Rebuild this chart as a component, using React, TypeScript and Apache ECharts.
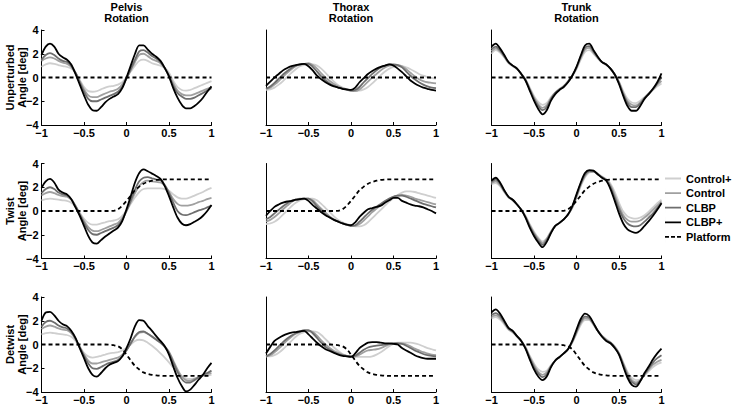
import React, { useEffect, useRef } from "react";
import * as echarts from "echarts";

const X = [-1, -0.95, -0.9, -0.85, -0.8, -0.75, -0.7, -0.65, -0.6, -0.55, -0.5, -0.45, -0.4, -0.35, -0.3, -0.25, -0.2, -0.15, -0.1, -0.05, 0, 0.05, 0.1, 0.15, 0.2, 0.25, 0.3, 0.35, 0.4, 0.45, 0.5, 0.55, 0.6, 0.65, 0.7, 0.75, 0.8, 0.85, 0.9, 0.95, 1];

const COLUMN_TITLES = ["Pelvis\nRotation", "Thorax\nRotation", "Trunk\nRotation"];
const ROW_TITLES = ["Unperturbed\nAngle [deg]", "Twist\nAngle [deg]", "Detwist\nAngle [deg]"];
const GROUPS = ["Control+", "Control", "CLBP", "CLBP+", "Platform"];
const X_TICKS = { min: -1, max: 1, interval: 0.5 };
const Y_TICKS = { min: -4, max: 4, interval: 2 };

// Pelvis, unperturbed
const PU_CP = [0.9, 1.1, 1.2, 1.15, 1.05, 0.95, 0.9, 0.75, 0.4, -0.2, -0.8, -1.15, -1.2, -1.15, -1.0, -0.85, -0.75, -0.7, -0.6, -0.4, 0.0, 0.5, 1.0, 1.4, 1.5, 1.4, 1.2, 1.1, 1.0, 0.8, 0.4, -0.3, -0.8, -1.05, -1.1, -1.05, -0.9, -0.75, -0.6, -0.45, -0.3];
const PU_C = [1.4, 1.6, 1.7, 1.6, 1.4, 1.25, 1.15, 0.9, 0.4, -0.3, -1.0, -1.5, -1.65, -1.65, -1.5, -1.35, -1.2, -1.1, -0.95, -0.6, 0.0, 0.6, 1.3, 1.9, 2.0, 1.8, 1.55, 1.4, 1.2, 0.8, 0.2, -0.5, -1.1, -1.4, -1.5, -1.5, -1.4, -1.25, -1.1, -0.95, -0.8];
const PU_L = [1.5, 1.9, 2.05, 1.9, 1.6, 1.4, 1.3, 1.0, 0.4, -0.4, -1.2, -1.8, -2.0, -2.0, -1.85, -1.7, -1.55, -1.4, -1.2, -0.8, -0.1, 0.7, 1.5, 2.2, 2.3, 2.1, 1.8, 1.6, 1.3, 0.8, 0.1, -0.7, -1.3, -1.6, -1.8, -1.8, -1.7, -1.5, -1.3, -1.1, -0.9];
const PU_LP = [1.9, 2.6, 2.85, 2.6, 2.0, 1.7, 1.5, 1.1, 0.3, -0.6, -1.5, -2.3, -2.75, -2.8, -2.5, -2.1, -1.8, -1.6, -1.4, -0.9, 0.0, 1.0, 2.0, 2.7, 2.7, 2.35, 2.0, 1.75, 1.4, 0.8, 0.1, -0.9, -1.7, -2.3, -2.6, -2.6, -2.4, -2.1, -1.7, -1.2, -0.75];

// Thorax, unperturbed
const TU_CP = [-1.05, -1.0, -0.85, -0.6, -0.3, 0.05, 0.4, 0.7, 0.95, 1.05, 1.1, 1.1, 1.0, 0.75, 0.4, 0.0, -0.35, -0.65, -0.85, -1.0, -1.05, -1.1, -1.1, -1.0, -0.8, -0.5, -0.15, 0.2, 0.5, 0.75, 0.9, 0.95, 0.95, 0.85, 0.7, 0.5, 0.3, 0.15, 0.05, -0.05, -0.1];
const TU_C = [-0.95, -0.85, -0.6, -0.3, 0.05, 0.4, 0.7, 0.95, 1.1, 1.15, 1.2, 1.05, 0.75, 0.35, 0.0, -0.3, -0.55, -0.75, -0.9, -1.0, -1.1, -1.15, -1.0, -0.7, -0.35, 0.0, 0.3, 0.6, 0.85, 1.0, 1.05, 1.05, 0.95, 0.7, 0.4, 0.1, -0.15, -0.3, -0.4, -0.45, -0.5];
const TU_L = [-0.95, -0.75, -0.45, -0.1, 0.25, 0.55, 0.8, 1.0, 1.1, 1.15, 1.15, 0.9, 0.5, 0.1, -0.25, -0.5, -0.7, -0.85, -0.95, -1.05, -1.1, -1.05, -0.8, -0.4, -0.05, 0.3, 0.6, 0.85, 1.0, 1.1, 1.1, 1.05, 0.85, 0.5, 0.15, -0.15, -0.4, -0.6, -0.75, -0.85, -0.9];
const TU_LP = [-0.7, -0.35, 0.0, 0.3, 0.6, 0.8, 0.95, 1.05, 1.1, 1.15, 0.95, 0.6, 0.15, -0.15, -0.4, -0.6, -0.75, -0.85, -0.95, -1.0, -1.05, -0.85, -0.4, -0.05, 0.3, 0.55, 0.75, 0.9, 1.0, 1.1, 1.0, 0.75, 0.45, 0.1, -0.25, -0.5, -0.7, -0.85, -0.95, -1.05, -1.1];

// Trunk, unperturbed
const RU_CP = [2.0, 2.3, 2.1, 1.7, 1.2, 0.95, 0.7, 0.3, -0.15, -0.85, -1.55, -2.05, -2.3, -2.15, -1.65, -1.25, -0.95, -0.7, -0.35, 0.1, 0.7, 1.5, 2.15, 2.3, 2.0, 1.6, 1.25, 1.05, 0.75, 0.25, -0.35, -1.15, -1.8, -2.1, -2.15, -1.95, -1.65, -1.35, -1.05, -0.75, -0.5];
const RU_C = [2.2, 2.45, 2.2, 1.75, 1.25, 1.0, 0.75, 0.3, -0.2, -0.95, -1.7, -2.25, -2.55, -2.35, -1.75, -1.3, -1.0, -0.75, -0.35, 0.15, 0.8, 1.65, 2.35, 2.5, 2.1, 1.65, 1.3, 1.1, 0.75, 0.25, -0.4, -1.3, -2.0, -2.3, -2.35, -2.1, -1.7, -1.35, -1.0, -0.6, -0.3];
const RU_L = [2.4, 2.6, 2.3, 1.8, 1.3, 1.0, 0.75, 0.3, -0.2, -1.0, -1.8, -2.4, -2.75, -2.5, -1.8, -1.3, -1.0, -0.75, -0.35, 0.15, 0.85, 1.75, 2.5, 2.65, 2.2, 1.7, 1.3, 1.1, 0.75, 0.25, -0.45, -1.4, -2.15, -2.5, -2.5, -2.2, -1.75, -1.35, -0.95, -0.5, 0.0];
const RU_LP = [2.6, 2.85, 2.45, 1.9, 1.3, 1.0, 0.75, 0.3, -0.25, -1.1, -1.95, -2.65, -3.1, -2.75, -1.95, -1.4, -1.05, -0.8, -0.4, 0.15, 0.9, 1.85, 2.7, 2.85, 2.3, 1.75, 1.3, 1.1, 0.75, 0.25, -0.55, -1.55, -2.4, -2.8, -2.8, -2.4, -1.8, -1.4, -0.95, -0.4, 0.35];

// Pelvis, twist
const PT_CP = [0.9, 1.0, 1.05, 1.0, 0.95, 0.9, 0.85, 0.7, 0.35, -0.15, -0.65, -1.0, -1.15, -1.15, -1.05, -0.95, -0.85, -0.8, -0.7, -0.4, 0.05, 0.6, 1.15, 1.6, 1.85, 1.9, 1.9, 1.9, 1.9, 1.85, 1.7, 1.4, 1.15, 1.05, 1.05, 1.15, 1.3, 1.45, 1.6, 1.8, 1.95];
const PT_C = [1.3, 1.5, 1.6, 1.5, 1.35, 1.25, 1.2, 0.95, 0.45, -0.2, -0.85, -1.35, -1.65, -1.7, -1.6, -1.45, -1.3, -1.15, -1.0, -0.6, 0.0, 0.75, 1.5, 2.1, 2.45, 2.55, 2.5, 2.45, 2.4, 2.15, 1.6, 1.0, 0.6, 0.45, 0.45, 0.5, 0.6, 0.75, 0.85, 1.0, 1.1];
const PT_L = [1.5, 1.85, 2.0, 1.85, 1.55, 1.4, 1.3, 1.0, 0.4, -0.3, -1.0, -1.6, -1.95, -2.0, -1.85, -1.7, -1.55, -1.4, -1.2, -0.75, 0.0, 0.9, 1.8, 2.5, 2.8, 2.85, 2.75, 2.65, 2.6, 2.2, 1.5, 0.7, 0.0, -0.3, -0.35, -0.25, -0.1, 0.05, 0.15, 0.3, 0.45];
const PT_LP = [1.95, 2.5, 2.7, 2.4, 1.8, 1.55, 1.4, 1.0, 0.3, -0.4, -1.25, -2.1, -2.65, -2.75, -2.45, -2.15, -1.9, -1.65, -1.4, -0.85, 0.15, 1.25, 2.4, 3.2, 3.5, 3.35, 3.15, 2.95, 2.7, 2.1, 1.25, 0.3, -0.55, -1.05, -1.2, -1.1, -0.9, -0.7, -0.4, 0.0, 0.5];

// Thorax, twist
const TT_CP = [-1.1, -1.05, -0.9, -0.65, -0.3, 0.05, 0.4, 0.7, 0.9, 1.0, 1.05, 1.05, 0.9, 0.6, 0.25, -0.1, -0.45, -0.75, -0.95, -1.1, -1.2, -1.3, -1.3, -1.2, -0.95, -0.6, -0.25, 0.1, 0.45, 0.8, 1.1, 1.35, 1.55, 1.65, 1.65, 1.6, 1.5, 1.4, 1.3, 1.2, 1.1];
const TT_C = [-0.9, -0.75, -0.5, -0.2, 0.15, 0.45, 0.75, 0.95, 1.05, 1.05, 1.05, 0.9, 0.55, 0.2, -0.15, -0.45, -0.7, -0.9, -1.05, -1.15, -1.25, -1.25, -1.1, -0.8, -0.45, -0.1, 0.2, 0.5, 0.8, 1.0, 1.2, 1.3, 1.35, 1.3, 1.2, 1.05, 0.95, 0.85, 0.75, 0.65, 0.55];
const TT_L = [-0.7, -0.5, -0.2, 0.1, 0.4, 0.65, 0.85, 0.95, 1.0, 1.05, 1.05, 0.8, 0.4, 0.05, -0.3, -0.55, -0.75, -0.9, -1.05, -1.15, -1.25, -1.2, -0.9, -0.55, -0.2, 0.1, 0.35, 0.6, 0.85, 1.05, 1.2, 1.3, 1.3, 1.2, 1.05, 0.9, 0.75, 0.6, 0.5, 0.4, 0.3];
const TT_LP = [-0.4, 0.0, 0.35, 0.55, 0.7, 0.8, 0.85, 0.95, 1.0, 1.05, 0.85, 0.5, 0.2, -0.1, -0.35, -0.55, -0.75, -0.9, -1.05, -1.15, -1.2, -0.95, -0.5, -0.15, 0.15, 0.25, 0.35, 0.45, 0.7, 0.9, 1.1, 1.1, 0.85, 0.7, 0.55, 0.45, 0.4, 0.3, 0.15, 0.0, -0.2];

// Trunk, twist
const RT_CP = [2.25, 2.35, 2.1, 1.6, 1.15, 0.9, 0.55, 0.1, -0.4, -1.1, -1.75, -2.25, -2.55, -2.3, -1.7, -1.25, -1.0, -0.7, -0.3, 0.25, 1.1, 2.1, 2.85, 3.25, 3.3, 3.15, 2.9, 2.7, 2.3, 1.6, 0.7, -0.05, -0.45, -0.6, -0.65, -0.55, -0.35, -0.05, 0.3, 0.65, 0.95];
const RT_C = [2.35, 2.5, 2.2, 1.65, 1.15, 0.9, 0.55, 0.1, -0.45, -1.2, -1.85, -2.35, -2.7, -2.35, -1.75, -1.25, -1.0, -0.7, -0.3, 0.3, 1.2, 2.2, 2.95, 3.3, 3.3, 3.1, 2.85, 2.65, 2.15, 1.35, 0.4, -0.35, -0.75, -0.9, -0.9, -0.8, -0.55, -0.25, 0.1, 0.45, 0.8];
const RT_L = [2.45, 2.65, 2.3, 1.7, 1.2, 0.95, 0.55, 0.1, -0.5, -1.3, -1.95, -2.5, -2.85, -2.45, -1.8, -1.25, -1.0, -0.7, -0.3, 0.35, 1.3, 2.3, 3.05, 3.35, 3.35, 3.1, 2.85, 2.6, 2.0, 1.1, 0.15, -0.6, -1.05, -1.25, -1.3, -1.2, -0.9, -0.55, -0.2, 0.25, 0.7];
const RT_LP = [2.55, 2.8, 2.4, 1.75, 1.2, 0.95, 0.55, 0.1, -0.55, -1.4, -2.1, -2.65, -3.05, -2.6, -1.85, -1.25, -1.0, -0.7, -0.3, 0.4, 1.4, 2.4, 3.2, 3.45, 3.4, 3.1, 2.8, 2.55, 1.85, 0.85, -0.2, -1.05, -1.55, -1.75, -1.85, -1.65, -1.25, -0.85, -0.4, 0.1, 0.65];

// Pelvis, detwist
const PD_CP = [0.85, 0.95, 1.0, 0.95, 0.9, 0.85, 0.8, 0.65, 0.3, -0.2, -0.7, -1.0, -1.1, -1.05, -0.95, -0.85, -0.75, -0.7, -0.65, -0.5, -0.3, 0.0, 0.3, 0.4, 0.35, 0.15, -0.1, -0.4, -0.75, -1.1, -1.5, -1.95, -2.35, -2.65, -2.85, -2.9, -2.85, -2.75, -2.65, -2.6, -2.55];
const PD_C = [1.3, 1.5, 1.6, 1.5, 1.35, 1.25, 1.2, 0.95, 0.45, -0.2, -0.85, -1.35, -1.6, -1.6, -1.5, -1.4, -1.3, -1.2, -1.1, -0.85, -0.45, 0.1, 0.65, 1.0, 1.05, 0.9, 0.7, 0.45, 0.2, -0.15, -0.6, -1.35, -2.1, -2.7, -3.0, -3.05, -2.9, -2.75, -2.6, -2.5, -2.4];
const PD_L = [1.5, 1.9, 2.0, 1.85, 1.6, 1.45, 1.35, 1.05, 0.5, -0.25, -0.95, -1.6, -2.0, -2.05, -1.9, -1.7, -1.55, -1.45, -1.3, -1.0, -0.5, 0.1, 0.7, 1.05, 1.1, 0.9, 0.65, 0.4, 0.15, -0.2, -0.7, -1.5, -2.3, -2.9, -3.2, -3.2, -3.0, -2.75, -2.55, -2.4, -2.2];
const PD_LP = [2.0, 2.7, 2.75, 2.45, 2.0, 1.7, 1.55, 1.15, 0.55, -0.3, -1.15, -2.0, -2.55, -2.7, -2.4, -2.0, -1.7, -1.55, -1.4, -1.0, -0.3, 0.55, 1.55, 2.05, 2.0, 1.55, 1.15, 0.7, 0.3, -0.15, -0.85, -1.85, -2.8, -3.5, -3.95, -3.8, -3.4, -2.95, -2.55, -2.0, -1.55];

// Thorax, detwist
const TD_CP = [-1.0, -1.0, -0.9, -0.7, -0.4, -0.05, 0.3, 0.65, 0.9, 1.05, 1.1, 1.1, 1.05, 0.8, 0.45, 0.1, -0.25, -0.55, -0.8, -0.95, -1.0, -1.05, -1.05, -1.05, -1.05, -1.0, -0.85, -0.65, -0.4, -0.15, 0.05, 0.15, 0.15, 0.15, 0.15, 0.1, 0.0, -0.15, -0.3, -0.4, -0.5];
const TD_C = [-1.0, -0.9, -0.65, -0.35, 0.0, 0.35, 0.65, 0.9, 1.05, 1.15, 1.15, 1.05, 0.75, 0.35, 0.0, -0.3, -0.55, -0.7, -0.85, -0.95, -1.0, -1.0, -0.85, -0.65, -0.5, -0.45, -0.4, -0.3, -0.15, 0.0, 0.1, 0.1, 0.1, 0.0, -0.15, -0.35, -0.5, -0.65, -0.75, -0.85, -0.9];
const TD_L = [-1.0, -0.8, -0.5, -0.15, 0.2, 0.5, 0.75, 0.95, 1.1, 1.2, 1.2, 0.95, 0.55, 0.15, -0.2, -0.45, -0.65, -0.8, -0.9, -0.95, -1.0, -0.95, -0.7, -0.45, -0.25, -0.15, -0.1, -0.05, 0.0, 0.05, 0.1, 0.1, 0.05, -0.1, -0.3, -0.5, -0.65, -0.8, -0.9, -0.95, -1.0];
const TD_LP = [-0.75, -0.2, 0.3, 0.55, 0.75, 0.9, 1.0, 1.05, 1.1, 1.15, 0.85, 0.5, 0.15, -0.15, -0.4, -0.55, -0.7, -0.85, -0.95, -1.0, -1.05, -0.75, -0.3, -0.05, 0.15, 0.2, 0.2, 0.15, 0.1, 0.1, 0.05, 0.0, -0.3, -0.5, -0.7, -0.9, -1.05, -1.15, -1.2, -1.2, -1.2];

// Trunk, detwist
const RD_CP = [2.2, 2.3, 2.1, 1.7, 1.25, 1.0, 0.65, 0.3, -0.2, -0.95, -1.6, -2.1, -2.3, -2.2, -1.75, -1.35, -1.05, -0.75, -0.4, 0.15, 0.9, 1.65, 2.05, 2.05, 1.65, 1.15, 0.75, 0.45, 0.2, -0.15, -0.7, -1.5, -2.3, -2.8, -3.0, -2.95, -2.6, -2.25, -1.9, -1.65, -1.5];
const RD_C = [2.35, 2.45, 2.25, 1.8, 1.3, 1.05, 0.7, 0.3, -0.25, -1.05, -1.75, -2.3, -2.55, -2.35, -1.8, -1.35, -1.05, -0.75, -0.4, 0.2, 1.0, 1.8, 2.2, 2.15, 1.7, 1.15, 0.7, 0.4, 0.15, -0.2, -0.75, -1.6, -2.45, -3.0, -3.2, -3.0, -2.55, -2.1, -1.7, -1.45, -1.3];
const RD_L = [2.5, 2.65, 2.4, 1.9, 1.35, 1.1, 0.7, 0.3, -0.3, -1.15, -1.9, -2.45, -2.75, -2.5, -1.85, -1.35, -1.05, -0.75, -0.4, 0.25, 1.1, 1.95, 2.35, 2.25, 1.75, 1.15, 0.7, 0.35, 0.15, -0.25, -0.8, -1.7, -2.6, -3.15, -3.35, -3.05, -2.5, -2.0, -1.5, -1.15, -0.9];
const RD_LP = [2.7, 2.95, 2.6, 2.0, 1.4, 1.15, 0.7, 0.3, -0.35, -1.25, -2.1, -2.7, -3.0, -2.7, -1.9, -1.35, -1.05, -0.75, -0.4, 0.3, 1.25, 2.15, 2.6, 2.4, 1.8, 1.15, 0.65, 0.3, 0.1, -0.3, -0.85, -1.85, -2.8, -3.4, -3.55, -3.1, -2.4, -1.85, -1.25, -0.75, -0.35];

// Platform rotation
const PLAT_UNP = [0, 0, 0, 0, 0, 0, 0, 0, 0, 0, 0, 0, 0, 0, 0, 0, 0, 0, 0, 0, 0, 0, 0, 0, 0, 0, 0, 0, 0, 0, 0, 0, 0, 0, 0, 0, 0, 0, 0, 0, 0];
const PLAT_TWIST = [0, 0, 0, 0, 0, 0, 0, 0, 0, 0, 0, 0, 0, 0, 0, 0, 0, 0.02, 0.15, 0.45, 0.85, 1.3, 1.75, 2.05, 2.3, 2.45, 2.55, 2.62, 2.65, 2.67, 2.67, 2.67, 2.67, 2.67, 2.67, 2.67, 2.67, 2.67, 2.67, 2.67, 2.67];
const PLAT_DETWIST = [0, 0, 0, 0, 0, 0, 0, 0, 0, 0, 0, 0, 0, 0, 0, 0, -0.02, -0.06, -0.15, -0.4, -0.85, -1.35, -1.8, -2.1, -2.35, -2.48, -2.56, -2.6, -2.63, -2.65, -2.65, -2.65, -2.65, -2.65, -2.65, -2.65, -2.65, -2.65, -2.65, -2.65, -2.65];

const PANEL_DATA = [
  [[PU_CP, PU_C, PU_L, PU_LP, PLAT_UNP], [TU_CP, TU_C, TU_L, TU_LP, PLAT_UNP], [RU_CP, RU_C, RU_L, RU_LP, PLAT_UNP]],
  [[PT_CP, PT_C, PT_L, PT_LP, PLAT_TWIST], [TT_CP, TT_C, TT_L, TT_LP, PLAT_TWIST], [RT_CP, RT_C, RT_L, RT_LP, PLAT_TWIST]],
  [[PD_CP, PD_C, PD_L, PD_LP, PLAT_DETWIST], [TD_CP, TD_C, TD_L, TD_LP, PLAT_DETWIST], [RD_CP, RD_C, RD_L, RD_LP, PLAT_DETWIST]],
];

const COLORS = ["#cfcfcf", "#a0a0a0", "#6e6e6e", "#000000", "#000000"];
const FONT = '"Liberation Sans", Arial, Helvetica, sans-serif';
const ROW_TOPS = [30, 163.5, 297];
const COL_LEFTS = [41.5, 266, 491.5];
const GRID_W = 170;
const GRID_H = 95;

// legend icons: a thin horizontal line (solid or dashed) inside a 16x11 box
const SOLID_ICON = "path://M0 0L0 11L0.01 11L0.01 0Z M0 4.6L16 4.6L16 6.4L0 6.4Z";
const DASH_ICON = "path://M0 0L0 11L0.01 11L0.01 0Z M0 4.6L4 4.6L4 6.4L0 6.4Z M6 4.6L10 4.6L10 6.4L6 6.4Z M12 4.6L16 4.6L16 6.4L12 6.4Z";

const minus = (v: number) => String(v).replace("-", "\u2212");

export default function App() {
  const ref = useRef<HTMLDivElement>(null);
  useEffect(() => {
    document.body.style.margin = "0";
    const chart = echarts.init(ref.current!, null, { renderer: "svg" });
    const grids: any[] = [];
    const xAxes: any[] = [];
    const yAxes: any[] = [];
    const series: any[] = [];
    const graphic: any[] = [];
    let idx = 0;
    for (let r = 0; r < 3; r++) {
      for (let c = 0; c < 3; c++) {
        grids.push({ left: COL_LEFTS[c], top: ROW_TOPS[r], width: GRID_W, height: GRID_H });
        xAxes.push({
          type: "value", gridIndex: idx, ...X_TICKS,
          axisLine: { show: true, onZero: false, lineStyle: { color: "#000", width: 1 } },
          axisTick: { show: true, inside: true, length: 3, lineStyle: { color: "#000" } },
          axisLabel: { margin: 2, color: "#000", fontSize: 11, fontWeight: "bold", fontFamily: FONT, formatter: minus },
          splitLine: { show: false },
        });
        yAxes.push({
          type: "value", gridIndex: idx, ...Y_TICKS,
          axisLine: { show: true, onZero: false, lineStyle: { color: "#000", width: 1 } },
          axisTick: { show: c === 0, inside: true, length: 3, lineStyle: { color: "#000" } },
          axisLabel: { show: c === 0, margin: 3, color: "#000", fontSize: 11, fontWeight: "bold", fontFamily: FONT, formatter: minus },
          splitLine: { show: false },
        });
        const arrs = PANEL_DATA[r][c];
        arrs.forEach((arr, g) => {
          series.push({
            name: GROUPS[g], type: "line", xAxisIndex: idx, yAxisIndex: idx,
            data: X.map((x, i) => [x, arr[i]]),
            smooth: 0.3, symbol: "none", showSymbol: false, silent: true,
            lineStyle: { color: COLORS[g], width: 1.8, type: g === 4 ? [4, 3] : "solid" },
            itemStyle: { color: COLORS[g] },
            z: 2 + g,
          });
        });
        idx++;
      }
    }
    COLUMN_TITLES.forEach((t, c) => {
      graphic.push({
        type: "text", x: COL_LEFTS[c] + GRID_W / 2, y: 12.5,
        style: { text: t, font: `bold 11px ${FONT}`, fill: "#000", textAlign: "center", textVerticalAlign: "middle", lineHeight: 11 },
      });
    });
    ROW_TITLES.forEach((t, r) => {
      graphic.push({
        type: "text", x: 15.5, y: ROW_TOPS[r] + GRID_H / 2, rotation: Math.PI / 2,
        style: { text: t, font: `bold 11px ${FONT}`, fill: "#000", textAlign: "center", textVerticalAlign: "middle", lineHeight: 12 },
      });
    });
    chart.setOption({
      animation: false,
      grid: grids,
      xAxis: xAxes,
      yAxis: yAxes,
      series,
      graphic,
      legend: {
        data: GROUPS.map((name, g) => ({ name, icon: g === 4 ? DASH_ICON : SOLID_ICON })),
        orient: "vertical", left: 665, top: 173, itemWidth: 16, itemHeight: 11, itemGap: 3.6,
        padding: 0, selectedMode: false,
        textStyle: { color: "#000", fontSize: 11, fontWeight: "bold", fontFamily: FONT, lineHeight: 11 },
      },
    });
    return () => chart.dispose();
  }, []);
  return <div ref={ref} style={{ width: 733, height: 405 }} />;
}
